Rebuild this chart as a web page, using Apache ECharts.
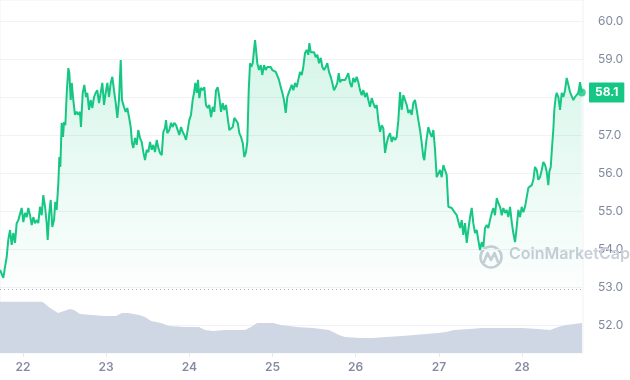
<!DOCTYPE html>
<html><head><meta charset="utf-8">
<script src="https://cdn.jsdelivr.net/npm/echarts@6/dist/echarts.min.js"></script>
<style>html,body{margin:0;padding:0;background:#fff}#c{width:630px;height:380px}</style>
</head><body><div id="c"></div>
<script>
// [day, price] pairs
const priceHistory = [
[21.724,53.45],[21.763,53.24],[21.784,53.53],[21.804,53.79],[21.823,54.24],[21.844,54.50],[21.864,54.11],[21.883,54.42],[21.904,54.16],[21.924,54.68],
[21.944,54.76],[21.964,54.71],[21.984,55.08],[22.004,54.71],[22.024,54.95],[22.045,54.84],[22.064,55.08],[22.084,54.89],[22.105,54.63],[22.124,54.84],
[22.144,54.68],[22.165,54.76],[22.184,54.68],[22.204,55.11],[22.225,54.89],[22.244,55.42],[22.265,55.11],[22.285,54.68],[22.297,54.24],[22.316,54.95],
[22.333,55.29],[22.352,54.58],[22.373,54.76],[22.388,55.24],[22.405,55.03],[22.425,55.74],[22.437,56.42],[22.449,56.16],[22.465,57.32],[22.481,56.95],
[22.493,57.34],[22.509,57.26],[22.526,58.11],[22.545,58.76],[22.557,58.63],[22.574,57.92],[22.586,58.37],[22.605,57.92],[22.625,57.53],[22.646,57.61],
[22.665,57.53],[22.685,57.61],[22.697,57.21],[22.718,58.11],[22.737,58.32],[22.758,58.00],[22.773,58.11],[22.794,57.66],[22.814,57.92],[22.833,57.71],
[22.854,58.00],[22.874,58.11],[22.893,58.18],[22.914,57.84],[22.934,58.11],[22.954,58.37],[22.974,57.79],[22.994,58.11],[23.014,58.37],[23.034,58.00],
[23.055,58.37],[23.074,58.53],[23.094,58.18],[23.115,57.84],[23.134,57.45],[23.154,57.92],[23.175,58.97],[23.190,57.92],[23.214,57.74],[23.235,57.61],
[23.254,57.71],[23.275,57.47],[23.295,57.21],[23.311,56.79],[23.326,56.66],[23.347,56.92],[23.367,56.74],[23.386,57.13],[23.407,56.92],[23.427,56.82],
[23.447,56.55],[23.467,56.34],[23.487,56.61],[23.507,56.55],[23.527,56.82],[23.548,56.61],[23.567,56.74],[23.587,56.55],[23.608,56.87],[23.627,56.66],
[23.647,56.53],[23.668,56.47],[23.687,57.08],[23.707,57.18],[23.720,57.39],[23.735,57.05],[23.759,57.13],[23.780,57.32],[23.800,57.21],[23.819,57.32],
[23.840,57.26],[23.860,57.13],[23.879,57.00],[23.900,57.21],[23.920,57.08],[23.939,57.00],[23.960,56.87],[23.980,57.13],[23.999,57.39],[24.020,57.53],
[24.040,57.92],[24.056,58.11],[24.072,58.37],[24.089,58.11],[24.104,58.45],[24.120,57.97],[24.140,58.24],[24.161,58.18],[24.180,58.26],[24.200,57.79],
[24.221,57.71],[24.240,57.79],[24.261,57.47],[24.281,57.74],[24.300,57.61],[24.321,58.18],[24.341,58.26],[24.360,58.00],[24.381,57.61],[24.401,57.84],
[24.420,57.66],[24.441,57.79],[24.461,57.45],[24.481,57.13],[24.501,57.13],[24.522,57.21],[24.541,57.45],[24.561,57.47],[24.582,57.32],[24.601,57.05],
[24.621,56.95],[24.642,56.79],[24.661,56.42],[24.681,56.55],[24.697,56.82],[24.714,58.18],[24.730,58.89],[24.745,58.79],[24.762,58.89],[24.778,59.24],
[24.790,59.50],[24.802,59.24],[24.817,58.89],[24.838,58.71],[24.858,58.84],[24.877,58.58],[24.898,58.84],[24.918,58.71],[24.938,58.79],[24.958,58.76],
[24.978,58.79],[24.998,58.71],[25.018,58.76],[25.039,58.66],[25.058,58.63],[25.078,58.45],[25.099,58.26],[25.118,58.11],[25.138,57.92],[25.159,57.58],
[25.178,58.00],[25.198,58.13],[25.210,58.11],[25.231,58.32],[25.250,58.18],[25.271,58.37],[25.291,58.26],[25.310,58.45],[25.331,58.66],[25.351,58.58],
[25.370,58.79],[25.391,59.16],[25.411,59.24],[25.430,59.11],[25.443,59.42],[25.459,59.18],[25.479,59.16],[25.499,59.18],[25.519,59.05],[25.539,59.11],
[25.559,58.89],[25.580,59.03],[25.599,58.79],[25.619,58.71],[25.640,58.79],[25.659,58.89],[25.679,58.66],[25.700,58.53],[25.719,58.37],[25.739,58.18],
[25.760,58.26],[25.779,58.37],[25.796,58.63],[25.812,58.39],[25.832,58.45],[25.851,58.50],[25.872,58.45],[25.892,58.53],[25.911,58.63],[25.932,58.37],
[25.952,58.26],[25.971,58.50],[25.992,58.39],[26.012,58.53],[26.032,58.39],[26.052,58.18],[26.072,58.05],[26.092,58.18],[26.112,58.00],[26.133,58.11],
[26.152,57.92],[26.172,57.74],[26.193,57.97],[26.212,57.84],[26.233,57.71],[26.253,57.79],[26.272,57.39],[26.293,57.08],[26.313,57.26],[26.332,57.18],
[26.353,56.53],[26.373,56.79],[26.392,56.95],[26.413,57.05],[26.433,56.82],[26.452,56.95],[26.473,56.87],[26.493,56.95],[26.513,57.39],[26.533,58.13],
[26.553,57.66],[26.573,58.05],[26.593,58.00],[26.614,57.79],[26.633,57.58],[26.653,57.66],[26.674,57.53],[26.693,57.84],[26.713,57.92],[26.734,57.66],
[26.753,57.39],[26.774,57.13],[26.794,56.79],[26.813,56.42],[26.825,56.34],[26.846,56.79],[26.873,57.21],[26.894,57.05],[26.914,56.95],[26.934,57.13],
[26.954,56.61],[26.974,55.89],[26.994,55.87],[27.014,56.08],[27.034,55.89],[27.054,56.21],[27.074,56.08],[27.094,55.95],[27.114,55.11],[27.134,55.16],
[27.155,55.08],[27.174,55.11],[27.194,54.95],[27.215,54.89],[27.234,54.84],[27.255,54.55],[27.275,54.76],[27.294,54.37],[27.315,54.68],[27.335,54.16],
[27.354,54.50],[27.375,54.84],[27.395,55.08],[27.414,54.68],[27.435,54.42],[27.455,54.50],[27.474,54.24],[27.495,53.97],[27.515,54.18],[27.535,54.05],
[27.555,54.55],[27.575,54.63],[27.595,54.55],[27.615,54.76],[27.636,54.95],[27.655,55.08],[27.675,54.89],[27.696,55.34],[27.715,55.21],[27.736,55.11],
[27.756,54.89],[27.775,55.08],[27.796,54.95],[27.816,55.03],[27.835,54.84],[27.856,55.11],[27.876,54.71],[27.895,54.42],[27.916,54.18],[27.936,54.58],
[27.956,55.03],[27.976,54.84],[27.996,55.11],[28.016,54.97],[28.036,55.11],[28.057,55.16],[28.076,55.61],[28.096,55.63],[28.117,55.68],[28.136,55.82],
[28.156,56.16],[28.177,56.08],[28.196,55.82],[28.216,55.89],[28.237,56.08],[28.256,56.29],[28.277,56.21],[28.297,56.03],[28.316,55.68],[28.328,56.03],
[28.345,56.16],[28.364,56.79],[28.376,57.13],[28.388,57.66],[28.405,58.00],[28.417,58.11],[28.437,58.00],[28.457,57.66],[28.477,58.11],[28.497,58.00],
[28.517,58.18],[28.537,58.50],[28.557,58.32],[28.577,58.13],[28.597,58.13],[28.617,57.92],[28.637,58.00],[28.658,57.97],[28.677,58.11],[28.697,58.39],
[28.718,58.12]
];
// [day, volume] pairs (relative units)
const volumeHistory = [
[21.724,81.4],[22.228,81.4],[22.253,79.4],[22.325,71.4],[22.421,63.5],[22.493,66.7],[22.565,69.8],[22.613,68.3],[22.685,61.9],[22.830,60.3],
[22.974,58.7],[23.118,58.7],[23.190,63.5],[23.263,63.5],[23.395,60.3],[23.467,57.1],[23.539,50.8],[23.659,47.6],[23.756,42.9],[23.948,41.3],
[24.116,41.3],[24.188,36.5],[24.285,34.9],[24.429,36.5],[24.669,36.5],[24.741,41.3],[24.814,47.6],[25.006,47.6],[25.102,44.4],[25.294,41.3],
[25.487,39.7],[25.679,36.5],[25.800,28.6],[25.872,25.4],[26.064,23.8],[26.208,23.8],[26.365,25.4],[26.557,27.0],[26.846,30.2],[26.990,31.7],
[27.086,33.3],[27.182,36.5],[27.375,38.1],[27.519,39.7],[27.760,39.7],[28.000,39.7],[28.192,38.1],[28.337,36.5],[28.433,41.3],[28.529,44.4],
[28.721,47.6]
];
const dayTicks = [22,23,24,25,26,27,28];
const priceMin = 52, priceMax = 60, priceStep = 1;
const startReference = 52.95;
const timeStart = 21.7235, timeEnd = 28.733;

const last = priceHistory[priceHistory.length - 1];
const GREEN = '#16c784';
const FONT = 'Inter, "Noto Sans", sans-serif';

const chart = echarts.init(document.getElementById('c'), null, {renderer:'canvas'});
chart.setOption({
  animation:false,
  grid:[
    {left:0, right:47, top:21, bottom:55},
    {left:0, right:47, top:0, bottom:27, show:true, borderColor:'#eff1f4', borderWidth:1}
  ],
  xAxis:[
    {type:'value', gridIndex:0, min:timeStart, max:timeEnd, show:false},
    {type:'value', gridIndex:1, min:timeStart, max:timeEnd,
     axisLine:{show:false},
     axisTick:{show:true, customValues:dayTicks, length:4, lineStyle:{color:'#e6e9ee'}},
     splitLine:{show:false},
     axisLabel:{customValues:dayTicks, color:'#858ca2', fontFamily:FONT, fontSize:12, fontWeight:600, margin:8,
       formatter:v=>String(Math.round(v))}}
  ],
  yAxis:[
    {type:'value', gridIndex:0, position:'right', min:priceMin, max:priceMax, interval:priceStep,
     axisLine:{show:false}, axisTick:{show:false},
     splitLine:{show:true, lineStyle:{color:'#f0f2f5', width:1}},
     axisLabel:{color:'#808a9d', fontFamily:FONT, fontSize:12, margin:15, formatter:v=>v.toFixed(1)}},
    {type:'value', gridIndex:1, min:0, max:560, show:false}
  ],
  graphic:[
    {type:'group', left:478, top:244, z:1, children:[
      {type:'circle', shape:{cx:12, cy:12, r:10.5}, style:{fill:'none', stroke:'#c9ced8', lineWidth:2.6}},
      {type:'polyline', shape:{points:[[5,17],[8.5,8],[12,15],[15.5,8],[19,17]]}, style:{fill:'none', stroke:'#c9ced8', lineWidth:2.6, lineJoin:'round', lineCap:'round'}}
    ]},
    {type:'text', left:509, top:246, z:1, style:{text:'CoinMarketCap', fill:'#c9ced8', font:'600 16px '+FONT}}
  ],
  series:[
    {type:'line', name:'Volume', xAxisIndex:1, yAxisIndex:1, data:volumeHistory, showSymbol:false, z:1,
     lineStyle:{width:0}, areaStyle:{color:'#cfd6e4', opacity:1}},
    {type:'line', name:'Price', xAxisIndex:0, yAxisIndex:0, data:priceHistory, showSymbol:false, z:3,
     lineStyle:{color:GREEN, width:2}, clip:false,
     areaStyle:{origin:startReference, color:new echarts.graphic.LinearGradient(0,0,0,1,[
       {offset:0, color:'rgba(22,199,132,0.26)'},{offset:1, color:'rgba(22,199,132,0.02)'}])},
     markLine:{silent:true, symbol:'none', animation:false, data:[
       {yAxis:startReference, lineStyle:{color:'#a6afbf', type:[1,3], width:1}, label:{show:false}}
     ]}},
    {type:'line', name:'Last', xAxisIndex:0, yAxisIndex:0, data:[], z:5,
     markLine:{silent:true, symbol:'none', animation:false, data:[
       {yAxis:last[1], lineStyle:{color:'rgba(0,0,0,0)', width:0},
        label:{show:true, position:'end', distance:6, formatter:last[1].toFixed(1),
          backgroundColor:GREEN, color:'#ffffff', fontFamily:FONT, fontSize:12,
          fontWeight:700, padding:[4,6,4,6], borderRadius:1}}
     ]}},
    {type:'scatter', xAxisIndex:0, yAxisIndex:0, data:[last], symbolSize:8, z:4,
     itemStyle:{color:GREEN}}
  ]
});
</script>
</body></html>
